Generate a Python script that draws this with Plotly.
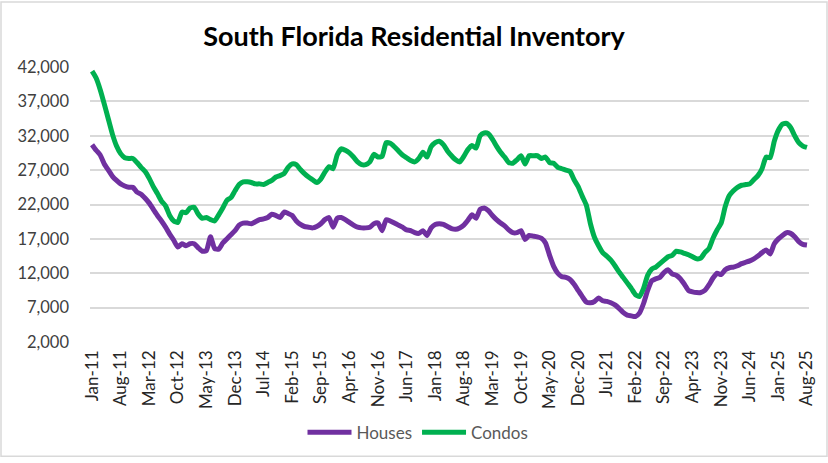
import plotly.graph_objects as go

months = ["Jan", "Feb", "Mar", "Apr", "May", "Jun", "Jul", "Aug", "Sep", "Oct", "Nov", "Dec"]
categories = [f"{m}-{y:02d}" for y in range(11, 26) for m in months][:176]

houses = [
    30700, 29900, 29200, 27900, 27000, 26100, 25500, 25000, 24700, 24500,
    24500, 23800, 23500, 22900, 22200, 21300, 20400, 19600, 18700, 17700,
    16800, 15800, 16300, 16000, 16300, 16300, 15700, 15200, 15300, 17300,
    15600, 15500, 16400, 17000, 17600, 18200, 19000, 19300, 19300, 19200,
    19500, 19800, 19900, 20100, 20600, 20400, 20100, 20900, 20700, 20400,
    19600, 19100, 18800, 18700, 18600, 18800, 19200, 19800, 20100, 18700,
    20000, 20100, 19800, 19400, 19000, 18700, 18600, 18600, 18700, 19200,
    19300, 18200, 19800, 19600, 19300, 19000, 18700, 18300, 18200, 17900,
    17800, 18200, 17500, 18600, 19100, 19200, 19100, 18800, 18500, 18400,
    18600, 19000, 19700, 20500, 20000, 21300, 21500, 21100, 20400, 19800,
    19300, 18900, 18300, 17900, 17900, 18200, 16900, 17500, 17400, 17300,
    17100, 16400, 14600, 13000, 12000, 11500, 11400, 11100, 10400, 9500,
    8600, 7800, 7700, 7900, 8400, 8000, 7900, 7700, 7400, 6900,
    6300, 5900, 5800, 5700, 6200, 7600, 9500, 10900, 11200, 11400,
    12100, 12500, 11900, 11700, 11200, 10400, 9500, 9300, 9200, 9200,
    9500, 10300, 11300, 12000, 11800, 12500, 12800, 12900, 13100, 13400,
    13600, 13800, 14100, 14500, 15000, 15400, 14800, 16300, 17000, 17500,
    17900, 17800, 17300, 16600, 16200, 16100,
]

condos = [
    41400, 40400, 38700, 36600, 34400, 32200, 30500, 29400, 28800, 28700,
    28700, 28100, 27400, 26800, 25800, 24600, 23600, 22500, 21800, 20400,
    19600, 19400, 20900, 20800, 21500, 21600, 20600, 20000, 20100, 19800,
    19600, 20500, 21500, 22600, 23000, 24000, 24900, 25300, 25300, 25200,
    25000, 25000, 24900, 25200, 25500, 26000, 26200, 26500, 27400, 27900,
    27800, 27100, 26500, 26000, 25600, 25200, 25700, 26700, 27500, 27200,
    29200, 30100, 29900, 29500, 28900, 28200, 27800, 27800, 28200, 29300,
    28900, 29000, 31000, 30900, 30400, 29800, 29200, 28800, 28400, 28200,
    28700, 29600, 28900, 30400, 31000, 31200, 30700, 29800, 29100, 28500,
    28200, 29000, 30000, 30600, 30200, 32000, 32400, 32300, 31500, 30500,
    29600, 28900, 28100, 28000, 28500, 29100, 27900, 29100, 29100, 29100,
    28700, 28900, 28100, 28000, 27400, 27200, 27000, 26800, 25600, 24600,
    23200, 21900, 19200, 17200, 16000, 15000, 14500, 13900, 13100, 12200,
    11400, 10600, 9800, 8900, 8600, 9800, 11700, 12600, 12900, 13400,
    13900, 14400, 14600, 15200, 15100, 14900, 14700, 14400, 14100, 14200,
    15000, 15600, 17100, 18300, 19300, 21700, 23300, 24000, 24500, 24800,
    24900, 25000, 25600, 26200, 27200, 28900, 28800, 31200, 32800, 33700,
    33800, 33200, 32000, 31000, 30500, 30300,
]

tick_labels = categories[::7]
y_ticks = list(range(2000, 42001, 5000))

W, H = 828, 463
ML, MR, MT, MB = 90, 19, 67, 117
pw, ph = W - ML - MR, H - MT - MB

fig = go.Figure()
fig.add_trace(go.Scatter(x=categories, y=houses, name="Houses", mode="lines",
                         line=dict(color="#7030A0", width=5, shape="spline", smoothing=0.5)))
fig.add_trace(go.Scatter(x=categories, y=condos, name="Condos", mode="lines",
                         line=dict(color="#00B050", width=5, shape="spline", smoothing=0.5)))

fig.update_layout(
    width=W, height=H,
    margin=dict(l=ML, r=MR, t=MT, b=MB),
    paper_bgcolor="white", plot_bgcolor="white",
    title=dict(text="<b>South Florida Residential Inventory</b>", x=0.5, xanchor="center",
               y=1 - 37 / H, yanchor="middle",
               font=dict(family="Lato", size=27, color="black")),
    showlegend=True,
    legend=dict(orientation="h", x=(418 - ML) / pw, xanchor="center", y=-(438 - MT - ph) / ph, yanchor="middle",
                font=dict(family="Lato", size=17, color="#595959"), itemwidth=44,
                bgcolor="rgba(0,0,0,0)"),
    xaxis=dict(type="category", range=[-0.5, 175.5], tickmode="array",
               tickvals=tick_labels, ticktext=tick_labels, tickangle=-90,
               showgrid=False, zeroline=False, showline=False, ticks="",
               ticklabelstandoff=4,
               tickfont=dict(family="Lato", size=17, color="#262626")),
    yaxis=dict(range=[2000, 42000], tickvals=y_ticks, tickformat=",d",
               showgrid=True, gridcolor="#D9D9D9", gridwidth=1.5, zeroline=False,
               showline=False, ticks="", ticklabelstandoff=20,
               tickfont=dict(family="Lato", size=16.5, color="#404040")),
)

# outer chart border
fig.add_shape(type="rect", xref="paper", yref="paper",
              x0=(1 - ML) / pw, x1=(W - 1 - ML) / pw,
              y0=-(MB - 1) / ph, y1=1 + (MT - 1) / ph,
              line=dict(color="#D9D9D9", width=1.5), layer="below")

fig.write_html("out.html")
